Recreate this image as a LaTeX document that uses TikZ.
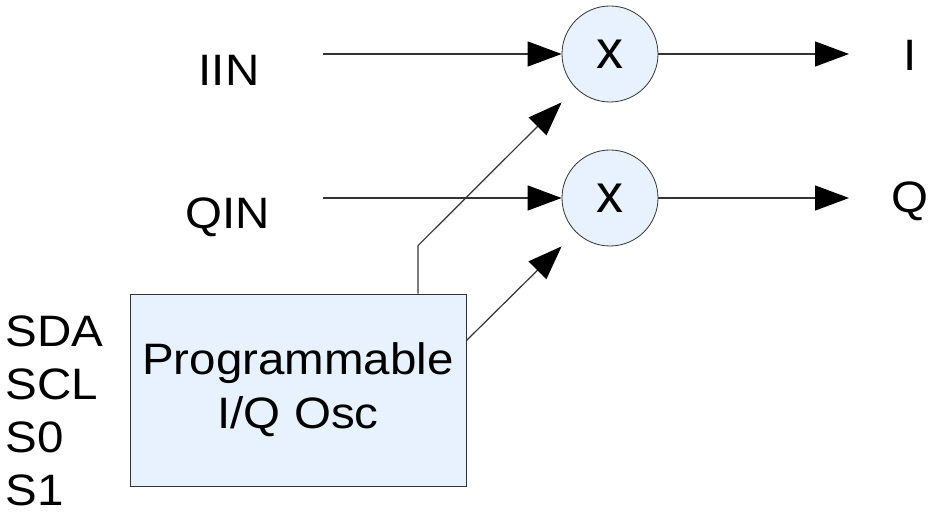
\documentclass[tikz,border=0pt]{standalone}
\usepackage{fontspec}
\setmainfont{Liberation Sans}
\usetikzlibrary{arrows.meta}
\definecolor{mixfill}{RGB}{232,242,254}
\definecolor{wire}{RGB}{51,51,51}
\newcommand{\wide}[1]{\scalebox{1.08}[1]{#1}}
\begin{document}
\begin{tikzpicture}[x=0.5pt, y=-0.5pt,
        lbl/.style={font=\fontsize{22}{26.5}\selectfont, xscale=1.08, inner sep=0pt},
        mixer/.style={draw=wire, circle, fill=mixfill, minimum size=48pt, inner sep=0pt, font=\fontsize{27}{30}\selectfont},
        sig/.style={draw=wire, line width=0.6pt, -{Triangle[length=17pt, width=12.5pt, color=black, fill=black]}}]
        \useasboundingbox (0,0) rectangle (930,512);
        % mixers
        \node[mixer] (mixi) at (610,54) {x};
        \node[mixer] (mixq) at (610,198) {x};

        % oscillator block
        \node[draw=wire, rectangle, fill=mixfill, minimum width=168pt, minimum height=96pt, align=center,
              font=\fontsize{22}{27}\selectfont] (osc) at (298,390) {\wide{Programmable}\\\wide{I/Q Osc}};

        % signal labels
        \node[lbl] (iin) at (229,70) {IIN};
        \node[lbl] (qin) at (228,217) {QIN};
        \node[lbl] (iout) at (910,55) {I};
        \node[lbl] (qout) at (910,201) {Q};
        \node[lbl, anchor=west, align=left] (ctrl) at (5,411) {SDA\\SCL\\S0\\S1};

        \coordinate (iinstart) at (323,54);
        \coordinate (qinstart) at (323,198);
        \coordinate (iend) at (849,54);
        \coordinate (qend) at (849,198);

        \draw[sig] (iinstart) -- (mixi);
        \draw[sig] (qinstart) -- (mixq);
        \draw[sig] (mixi) -- (iend);
        \draw[sig] (mixq) -- (qend);

        % local oscillator feeds
        \draw[sig] ([xshift=60pt]osc.north) -- ++(0,-48) -- (mixi.west |- mixi.south);
        \draw[sig] ([yshift=-23.5pt]osc.north east) -- (mixq.west |- mixq.south);
    \end{tikzpicture}
\end{document}
